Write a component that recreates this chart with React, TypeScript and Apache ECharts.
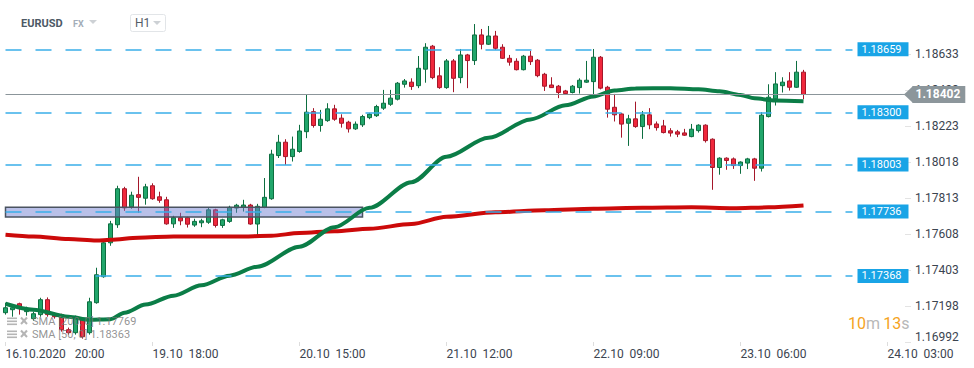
import React, { useEffect, useRef } from 'react';
import * as echarts from 'echarts';

// ---- data ----
const opens = [
  1.17159, 1.17176, 1.17210, 1.17165, 1.17125, 1.17148, 1.17233, 1.17148, 1.17148, 1.17062,
  1.17045, 1.17125, 1.17045, 1.17216, 1.17364, 1.17557, 1.17660, 1.17865, 1.17762, 1.17831,
  1.17811, 1.17882, 1.17819, 1.17802, 1.17665, 1.17700, 1.17700, 1.17658, 1.17671, 1.17674,
  1.17745, 1.17656, 1.17679, 1.17755, 1.17759, 1.17772, 1.17664, 1.17759, 1.17808, 1.18054,
  1.18130, 1.18048, 1.18077, 1.18190, 1.18304, 1.18225, 1.18253, 1.18320, 1.18267, 1.18244,
  1.18206, 1.18229, 1.18270, 1.18281, 1.18324, 1.18346, 1.18375, 1.18460, 1.18472, 1.18452,
  1.18546, 1.18677, 1.18508, 1.18441, 1.18593, 1.18498, 1.18627, 1.18595, 1.18741, 1.18688,
  1.18735, 1.18671, 1.18608, 1.18591, 1.18543, 1.18620, 1.18597, 1.18517, 1.18456, 1.18449,
  1.18422, 1.18413, 1.18441, 1.18472, 1.18475, 1.18614, 1.18443, 1.18329, 1.18291, 1.18238,
  1.18263, 1.18219, 1.18286, 1.18234, 1.18223, 1.18195, 1.18189, 1.18183, 1.18162, 1.18196,
  1.18227, 1.18147, 1.17986, 1.18039, 1.18035, 1.17997, 1.18011, 1.18035, 1.17982, 1.18276,
  1.18377, 1.18452, 1.18479, 1.18443, 1.18529,
];
const closes = [
  1.17187, 1.17187, 1.17182, 1.17176, 1.17153, 1.17233, 1.17148, 1.17136, 1.17062, 1.17045,
  1.17136, 1.17022, 1.17221, 1.17375, 1.17557, 1.17665, 1.17865, 1.17756, 1.17828, 1.17816,
  1.17876, 1.17808, 1.17799, 1.17665, 1.17700, 1.17682, 1.17663, 1.17679, 1.17682, 1.17745,
  1.17656, 1.17688, 1.17759, 1.17771, 1.17772, 1.17664, 1.17765, 1.17816, 1.18062, 1.18130,
  1.18048, 1.18090, 1.18194, 1.18301, 1.18225, 1.18261, 1.18320, 1.18261, 1.18238, 1.18206,
  1.18233, 1.18276, 1.18290, 1.18333, 1.18352, 1.18381, 1.18466, 1.18479, 1.18447, 1.18551,
  1.18671, 1.18498, 1.18441, 1.18593, 1.18494, 1.18627, 1.18595, 1.18741, 1.18688, 1.18735,
  1.18665, 1.18608, 1.18586, 1.18543, 1.18620, 1.18589, 1.18509, 1.18449, 1.18441, 1.18413,
  1.18407, 1.18449, 1.18483, 1.18483, 1.18614, 1.18438, 1.18318, 1.18286, 1.18233, 1.18263,
  1.18219, 1.18286, 1.18229, 1.18213, 1.18185, 1.18182, 1.18176, 1.18170, 1.18204, 1.18227,
  1.18139, 1.17986, 1.18039, 1.18026, 1.17997, 1.18017, 1.18035, 1.17982, 1.18284, 1.18386,
  1.18462, 1.18472, 1.18443, 1.18529, 1.18402,
];
const lows = [
  1.17148, 1.17136, 1.17148, 1.17142, 1.17114, 1.17136, 1.17136, 1.17125, 1.17051, 1.17034,
  1.17034, 1.17011, 1.17034, 1.17210, 1.17358, 1.17540, 1.17642, 1.17739, 1.17751, 1.17728,
  1.17774, 1.17802, 1.17785, 1.17660, 1.17642, 1.17657, 1.17644, 1.17648, 1.17646, 1.17665,
  1.17644, 1.17642, 1.17671, 1.17728, 1.17735, 1.17660, 1.17597, 1.17754, 1.17802, 1.18040,
  1.18001, 1.18020, 1.18070, 1.18153, 1.18213, 1.18190, 1.18246, 1.18252, 1.18213, 1.18185,
  1.18200, 1.18217, 1.18261, 1.18274, 1.18314, 1.18337, 1.18368, 1.18441, 1.18428, 1.18438,
  1.18469, 1.18489, 1.18434, 1.18434, 1.18415, 1.18466, 1.18438, 1.18570, 1.18659, 1.18684,
  1.18656, 1.18604, 1.18566, 1.18539, 1.18539, 1.18570, 1.18500, 1.18422, 1.18439, 1.18381,
  1.18399, 1.18408, 1.18407, 1.18468, 1.18394, 1.18431, 1.18270, 1.18248, 1.18156, 1.18109,
  1.18212, 1.18149, 1.18204, 1.18196, 1.18180, 1.18162, 1.18159, 1.18166, 1.18158, 1.18185,
  1.18128, 1.17859, 1.17945, 1.17973, 1.17978, 1.17950, 1.17977, 1.17910, 1.17963, 1.18271,
  1.18339, 1.18413, 1.18424, 1.18439, 1.18375,
];
const highs = [
  1.17216, 1.17199, 1.17216, 1.17193, 1.17165, 1.17244, 1.17246, 1.17159, 1.17153, 1.17074,
  1.17142, 1.17131, 1.17244, 1.17415, 1.17574, 1.17682, 1.17882, 1.17876, 1.17848, 1.17933,
  1.17893, 1.17896, 1.17848, 1.17819, 1.17711, 1.17728, 1.17705, 1.17694, 1.17694, 1.17756,
  1.17751, 1.17694, 1.17768, 1.17779, 1.17802, 1.17779, 1.17779, 1.17926, 1.18087, 1.18172,
  1.18147, 1.18162, 1.18229, 1.18403, 1.18324, 1.18314, 1.18352, 1.18343, 1.18289, 1.18252,
  1.18248, 1.18286, 1.18297, 1.18343, 1.18428, 1.18428, 1.18473, 1.18490, 1.18494, 1.18621,
  1.18694, 1.18684, 1.18557, 1.18604, 1.18604, 1.18661, 1.18633, 1.18803, 1.18775, 1.18792,
  1.18764, 1.18688, 1.18627, 1.18608, 1.18627, 1.18650, 1.18604, 1.18525, 1.18500, 1.18456,
  1.18428, 1.18456, 1.18494, 1.18593, 1.18661, 1.18621, 1.18451, 1.18405, 1.18297, 1.18286,
  1.18361, 1.18308, 1.18324, 1.18248, 1.18257, 1.18210, 1.18200, 1.18206, 1.18234, 1.18232,
  1.18232, 1.18152, 1.18044, 1.18044, 1.18043, 1.18021, 1.18041, 1.18041, 1.18301, 1.18460,
  1.18529, 1.18500, 1.18529, 1.18593, 1.18542,
];

// SMA 50 (green) and SMA 200 (red), read at selected bar indices
const sma50Idx = [0, 4, 9, 12, 15, 17, 20, 24, 28, 32, 36, 42, 47, 52, 58, 63, 69, 75, 80, 84, 87, 90, 95, 99, 102, 105, 107, 110, 114];
const sma50Val = [
  1.17210, 1.17176, 1.17136, 1.17119, 1.17122, 1.17159, 1.17205, 1.17256, 1.17315, 1.17370,
  1.17421, 1.17535, 1.17646, 1.17756, 1.17902, 1.18047, 1.18155, 1.18260, 1.18340, 1.18391,
  1.18425, 1.18436, 1.18438, 1.18432, 1.18420, 1.18399, 1.18380, 1.18367, 1.18363,
];
const sma200Idx = [0, 4, 9, 13, 15, 19, 24, 33, 38, 42, 47, 52, 58, 63, 70, 77, 84, 91, 98, 104, 109, 114];
const sma200Val = [
  1.17603, 1.17593, 1.17578, 1.17570, 1.17574, 1.17586, 1.17593, 1.17593, 1.17597, 1.17613,
  1.17623, 1.17637, 1.17664, 1.17705, 1.17731, 1.17742, 1.17751, 1.17756, 1.17759, 1.17754,
  1.17759, 1.17769,
];

const levels = [1.18659, 1.18300, 1.18003, 1.17736, 1.17368];
const lastPrice = 1.18402;
const zoneHigh = 1.17760;
const zoneLow = 1.17704;
const zoneEndIndex = 51;
const levelEndIndex = 121;

const yTicks = [1.18633, 1.18428, 1.18223, 1.18018, 1.17813, 1.17608, 1.17403, 1.17198, 1.16992];
const yMin = 1.16992;
const yMax = 1.1894;

const xTickLabels = ['16.10.2020   20:00', '19.10  18:00', '20.10  15:00', '21.10  12:00', '22.10  09:00', '23.10  06:00', '24.10  03:00'];
const tickEvery = 21;

// hourly categories: 16.10 20:00..22:00, then 19.10 00:00 .. 24.10 05:00
const categories: string[] = [];
const pad = (n: number) => (n < 10 ? '0' + n : '' + n);
[20, 21, 22].forEach((h) => categories.push('16.10 ' + pad(h) + ':00'));
for (let d = 19; d <= 24; d++) {
  for (let h = 0; h < 24; h++) {
    if (categories.length >= 129) break;
    categories.push(d + '.10 ' + pad(h) + ':00');
  }
}

const fmt = (v: number) => v.toFixed(5);

export default function App() {
  const ref = useRef<HTMLDivElement>(null);
  useEffect(() => {
    if (!ref.current) return;
    const chart = echarts.init(ref.current, null, { renderer: 'svg' });
    const candleData = opens.map((o, i) => [o, closes[i], lows[i], highs[i]]);
    const lastCat = categories.length - 1;
    const option: any = {
      animation: false,
      backgroundColor: '#ffffff',
      textStyle: { fontFamily: 'Roboto' },
      grid: { left: 2, right: 69, top: 0, bottom: 26 },
      xAxis: {
        type: 'category',
        data: categories,
        boundaryGap: true,
        axisLine: { show: false },
        axisTick: {
          show: true,
          alignWithLabel: true,
          interval: (i: number) => i % tickEvery === 0,
          length: 4,
          lineStyle: { color: '#dddddd' },
        },
        axisLabel: {
          interval: (i: number) => i % tickEvery === 0,
          formatter: (_v: string, i: number) => xTickLabels[i / tickEvery] ?? '',
          align: 'left',
          color: '#3b4450',
          fontSize: 12,
          fontFamily: 'Roboto',
          margin: 6,
        },
        splitLine: { show: false },
      },
      yAxis: {
        type: 'value',
        position: 'right',
        min: yMin,
        max: yMax,
        axisLine: { show: false },
        axisTick: { show: true, customValues: yTicks, length: 6, lineStyle: { color: '#e3e3e3' } },
        axisLabel: {
          customValues: yTicks,
          formatter: (v: number) => (Math.abs(v - yMin) < 1e-7 ? '{lo|' + fmt(v) + '}' : fmt(v)),
          rich: { lo: { padding: [0, 0, 10, 0], color: '#3b4450', fontSize: 12, fontFamily: 'Roboto' } },
          color: '#3b4450',
          fontSize: 12,
          fontFamily: 'Roboto',
          margin: 10,
        },
        splitLine: { show: false },
      },
      series: [
        {
          type: 'candlestick',
          data: candleData,
          barWidth: 5,
          z: 2,
          itemStyle: {
            color: '#21a66b',
            color0: '#f0283c',
            borderColor: '#0d6e40',
            borderColor0: '#a5172a',
            borderWidth: 1,
          },
          markArea: {
            z: 3,
            silent: true,
            itemStyle: { color: 'rgba(108,124,206,0.48)', borderColor: '#4a5360', borderWidth: 1.5 },
            data: [[{ coord: [0, zoneHigh] }, { coord: [zoneEndIndex, zoneLow] }]],
          },
          markLine: {
            z: 5,
            silent: true,
            symbol: ['none', 'none'],
            lineStyle: { color: '#3aaee9', width: 1.5, type: [16, 14] },
            label: {
              show: true,
              position: 'end',
              formatter: (p: any) => p.name,
              backgroundColor: '#19a4e6',
              color: '#ffffff',
              fontSize: 11,
              fontFamily: 'Roboto',
              padding: [2, 7, 1, 4],
              distance: 5,
            },
            data: levels.map((v) => [
              { name: fmt(v), coord: [0, v] },
              { name: fmt(v), coord: [levelEndIndex, v] },
            ]),
          },
        },
        {
          type: 'line',
          name: 'SMA200',
          data: sma200Idx.map((x, k) => [x, sma200Val[k]]),
          smooth: 0.3,
          smoothMonotone: 'x',
          symbol: 'none',
          z: 4,
          lineStyle: { color: '#cc0a0a', width: 4 },
        },
        {
          type: 'line',
          name: 'SMA50',
          data: sma50Idx.map((x, k) => [x, sma50Val[k]]),
          smooth: 0.3,
          smoothMonotone: 'x',
          symbol: 'none',
          z: 4,
          lineStyle: { color: '#0b7d47', width: 4 },
          markLine: {
            z: 5,
            silent: true,
            symbol: ['none', 'none'],
            lineStyle: { color: '#8b959a', type: 'solid', width: 1 },
            label: {
              show: true,
              position: 'end',
              formatter: (p: any) => p.name,
              backgroundColor: '#8c969b',
              color: '#ffffff',
              fontWeight: 'bold',
              fontSize: 12,
              fontFamily: 'Roboto',
              padding: [3, 5, 2, 3],
              distance: 11,
            },
            data: [[
              { name: fmt(lastPrice), coord: [0, lastPrice] },
              { name: fmt(lastPrice), coord: [lastCat, lastPrice] },
            ]],
          },
        },
      ],
    };
    chart.setOption(option);

    const py = chart.convertToPixel({ yAxisIndex: 0 }, lastPrice) as number;
    const gridRight = 974 - 69;
    const grey = '#b5b5b5';
    const legendRows = [
      { y: 321, text: 'SMA [200, 0] ' + fmt(sma200Val[sma200Val.length - 1]) },
      { y: 334, text: 'SMA [50, 0] ' + fmt(sma50Val[sma50Val.length - 1]) },
    ];
    const legendEls: any[] = [];
    legendRows.forEach((r) => {
      [-3.5, -0.5, 2.5].forEach((dy) =>
        legendEls.push({ type: 'rect', z: 100, shape: { x: 7, y: r.y + dy, width: 10, height: 1.6 }, style: { fill: grey } })
      );
      legendEls.push({ type: 'line', z: 100, shape: { x1: 21, y1: r.y - 3.5, x2: 27, y2: r.y + 3 }, style: { stroke: grey, lineWidth: 2 } });
      legendEls.push({ type: 'line', z: 100, shape: { x1: 27, y1: r.y - 3.5, x2: 21, y2: r.y + 3 }, style: { stroke: grey, lineWidth: 2 } });
      legendEls.push({
        type: 'text', z: 100, x: 32, y: r.y,
        style: { text: r.text, fill: 'rgba(120,120,120,0.8)', font: '11px Roboto', verticalAlign: 'middle' },
      });
    });

    chart.setOption({
      graphic: [
        { type: 'text', z: 100, x: 21, y: 23, style: { text: 'EURUSD', fill: '#4d5965', font: 'bold 11px Roboto', verticalAlign: 'middle' } },
        { type: 'text', z: 100, x: 73, y: 24, style: { text: 'FX', fill: '#a3adb8', font: 'bold 9px Roboto', verticalAlign: 'middle' } },
        { type: 'polygon', z: 100, shape: { points: [[89, 20], [97, 20], [93, 24]] }, style: { fill: '#cdd1d5' } },
        { type: 'rect', z: 100, shape: { x: 130.5, y: 14.5, width: 35, height: 17, r: 2 }, style: { fill: '#ffffff', stroke: '#e2e5e8', lineWidth: 1 } },
        { type: 'text', z: 100, x: 135, y: 23, style: { text: 'H1', fill: '#555e68', font: '12px Roboto', verticalAlign: 'middle' } },
        { type: 'polygon', z: 100, shape: { points: [[153, 21], [161, 21], [157, 25]] }, style: { fill: '#cdd1d5' } },
        { type: 'line', z: 1, shape: { x1: gridRight - 5, y1: py, x2: gridRight, y2: py }, style: { stroke: '#8b959a', lineWidth: 1 } },
        { type: 'polygon', z: 100, shape: { points: [[gridRight - 1, py], [gridRight + 8, py - 8.5], [gridRight + 8, py + 8.5]] }, style: { fill: '#8c969b' } },
        {
          type: 'text', z: 100, x: 848, y: 323,
          style: {
            text: '{o|10}{g|m} {o|13}{g|s}',
            verticalAlign: 'middle',
            rich: {
              o: { fill: '#f5a321', fontSize: 16, fontFamily: 'Roboto' },
              g: { fill: '#b8b8b8', fontSize: 16, fontFamily: 'Roboto' },
            },
          },
        },
        ...legendEls,
      ],
    });

    return () => chart.dispose();
  }, []);
  return <div ref={ref} style={{ position: 'absolute', left: 0, top: 0, width: 974, height: 368 }} />;
}
